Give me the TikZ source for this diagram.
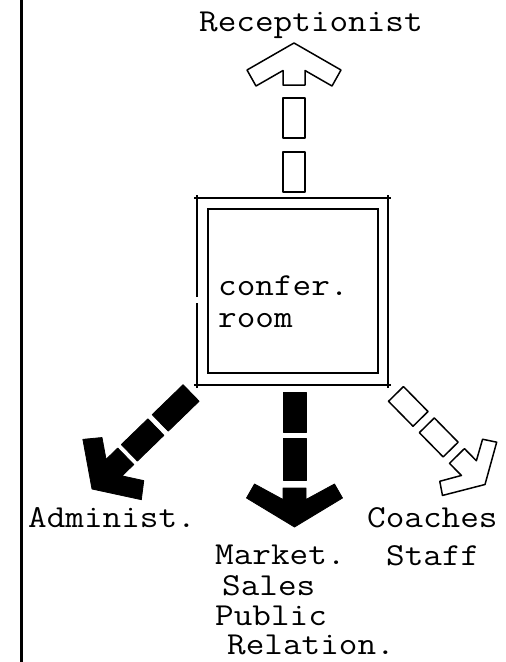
\documentclass[tikz,border=0pt]{standalone}
\usepackage{fontspec}
\newfontfamily\tw[FakeStretch=1.13]{Latin Modern Mono}
\begin{document}
\begin{tikzpicture}[x=1pt,y=-1pt,
  txt/.style={font=\tw\fontsize{32pt}{32pt}\selectfont, inner sep=0pt, anchor=base west},
  whitearrow/.style={draw=black, line width=1.5pt, fill=white, line join=round},
  blackarrow/.style={draw=black, fill=black, line width=0.8pt, line join=round},
  roomline/.style={line width=2pt},
  border/.style={line width=3.5pt}]
\useasboundingbox (0,0) rectangle (506,662);
\fill[white] (0,0) rectangle (506,662);

% left border
\coordinate (bt) at (21.5,-5);
\coordinate (bb) at (21.5,667);
\draw[border] (bt) -- (bb);

% conference room
\node[draw, roomline, inner sep=0pt, minimum width=170pt, minimum height=164pt] (roominner) at (293,291) {};
\coordinate (otl) at (197,198);
\coordinate (otr) at (388,198);
\coordinate (obr) at (388,385);
\coordinate (obl) at (197,385);
\draw[roomline] ([xshift=-3pt]otl) -- ([xshift=3pt]otr);
\draw[roomline] ([yshift=3pt]otr) -- ([yshift=-3pt]obr);
\draw[roomline] ([xshift=3pt]obr) -- ([xshift=-3pt]obl);
\draw[roomline] ([yshift=-3pt]obl) -- (197,303);
\draw[roomline] (197,297) -- ([yshift=3pt]otl);
\node[txt] (confer) at (218,295) {confer.};
\node[txt] (room) at (218,327) {room};

% top arrow (Receptionist)
\coordinate (topapex) at (294,43);
\begin{scope}[shift={(topapex)}, rotate=90]
  \draw[whitearrow] (-27.5,11) -- (-43,38) -- (-27,47) -- (0,0) -- (-27,-47) -- (-43,-38) -- (-27.5,-11) -- (-42,-11) -- (-42,11) -- cycle;
  \draw[whitearrow] (-55,-11) rectangle (-95,11);
  \draw[whitearrow] (-109,-11) rectangle (-149,11);
\end{scope}

% bottom arrow (Market.)
\coordinate (botapex) at (294.5,527);
\begin{scope}[shift={(botapex)}, rotate=-90]
  \draw[blackarrow] (-27.5,11.5) -- (-43,40) -- (-29,48) -- (0,0) -- (-29,-48) -- (-43,-40) -- (-27.5,-11.5) -- (-39,-11.5) -- (-39,11.5) -- cycle;
  \draw[blackarrow] (-47,-11.5) rectangle (-89,11.5);
  \draw[blackarrow] (-95,-11.5) rectangle (-135,11.5);
\end{scope}

% left arrow (Administ.)
\coordinate (leftapex) at (92,489);
\begin{scope}[shift={(leftapex)}, rotate=224.1]
  \draw[blackarrow] (-30.7,11.5) -- (-43,30) -- (-28,42) -- (0,0) -- (-28,-42) -- (-43,-30) -- (-30.7,-11.5) -- (-47,-11.5) -- (-47,11.5) -- cycle;
  \draw[blackarrow] (-52,-11.5) rectangle (-89,11.5);
  \draw[blackarrow] (-95,-11.5) rectangle (-138,11.5);
\end{scope}

% right arrow (Coaches Staff)
\coordinate (rightapex) at (485,484.5);
\begin{scope}[shift={(rightapex)}, rotate=-45.5]
  \draw[whitearrow] (-23,10.5) -- (-34,30) -- (-22,38) -- (0,0) -- (-22,-38) -- (-34,-30) -- (-23,-10.5) -- (-40,-10.5) -- (-40,10.5) -- cycle;
  \draw[whitearrow] (-49,-10.5) rectangle (-83,10.5);
  \draw[whitearrow] (-92,-10.5) rectangle (-127,10.5);
\end{scope}

% labels
\node[txt] (recep) at (199,31) {Receptionist};
\node[txt] (admin) at (28,527) {Administ.};
\node[txt] (coaches) at (367,527) {Coaches};
\node[txt] (staff) at (386,565) {Staff};
\node[txt] (market) at (215,564) {Market.};
\node[txt] (sales) at (222,595) {Sales};
\node[txt] (public) at (215,625) {Public};
\node[txt] (relation) at (227,654) {Relation.};
\end{tikzpicture}
\end{document}
